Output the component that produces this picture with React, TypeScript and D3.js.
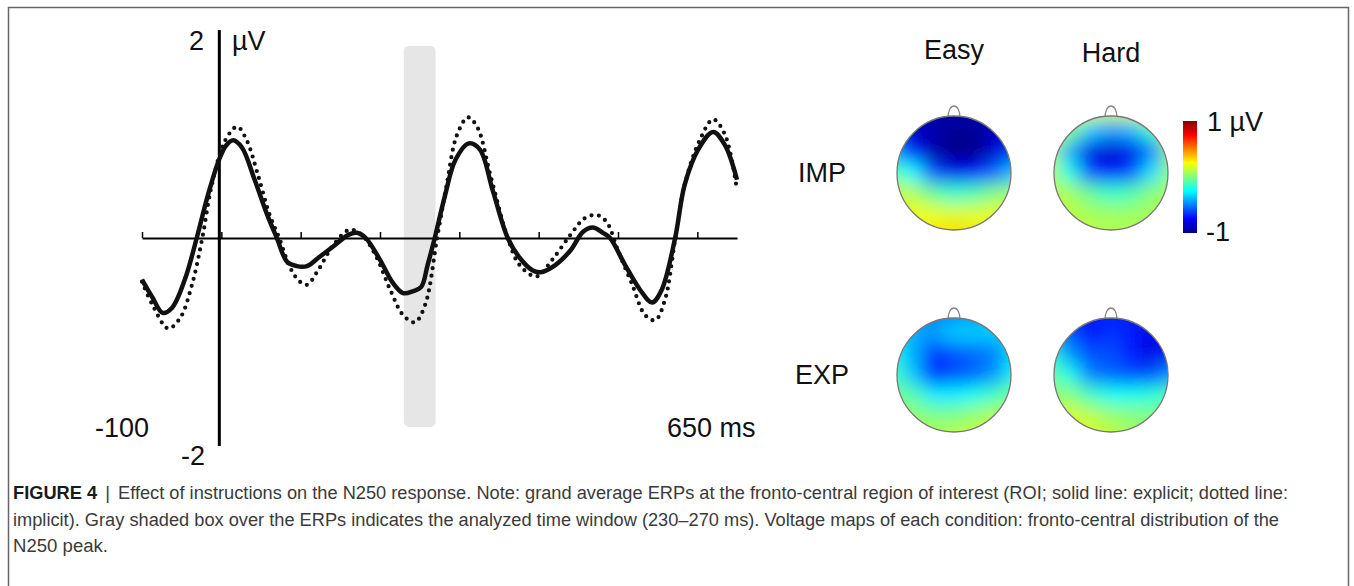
import React, { useEffect, useRef } from "react";
import * as d3 from "d3";

// ERP at the fronto-central ROI (ms, µV)
const solidTimes = [-100, -87, -74, -62, -46, -31, -17, -3, 6, 15, 26, 42, 58, 70, 83, 95, 108, 124, 143, 160, 171, 182, 200, 216, 229, 242, 252, 260, 269, 282, 295, 312, 326, 342, 361, 376, 392, 402, 421, 440, 456, 468, 481, 490, 509, 528, 543, 555, 572, 584, 601, 620, 635, 650];
const solidValues = [-0.4, -0.57, -0.72, -0.67, -0.4, 0, 0.41, 0.75, 0.89, 0.94, 0.87, 0.56, 0.22, 0, -0.23, -0.27, -0.27, -0.18, -0.07, 0.03, 0.05, 0, -0.21, -0.43, -0.53, -0.51, -0.47, -0.26, 0, 0.41, 0.75, 0.91, 0.85, 0.46, 0, -0.19, -0.31, -0.33, -0.26, -0.12, 0.06, 0.1, 0.05, 0, -0.26, -0.5, -0.62, -0.5, 0, 0.51, 0.85, 1.02, 0.89, 0.56];

const dottedTimes = [-100, -87, -67, -52, -37, -24, -12, 5, 20, 32, 46, 61, 73, 87, 99, 108, 122, 141, 162, 177, 194, 213, 229, 244, 257, 272, 284, 297, 311, 323, 339, 361, 376, 397, 417, 440, 458, 474, 486, 500, 518, 534, 547, 559, 572, 584, 603, 620, 635, 650];
const dottedValues = [-0.42, -0.64, -0.87, -0.77, -0.45, 0, 0.51, 0.94, 1.07, 0.94, 0.61, 0.22, 0, -0.29, -0.42, -0.45, -0.31, -0.07, 0.08, 0.03, -0.16, -0.5, -0.74, -0.81, -0.64, 0, 0.51, 0.99, 1.16, 1.06, 0.61, 0, -0.26, -0.37, -0.21, 0.03, 0.19, 0.22, 0.15, -0.12, -0.45, -0.74, -0.79, -0.6, -0.02, 0.51, 0.94, 1.14, 0.99, 0.46];

const xTicks = [-100, 0, 100, 200, 300, 400, 500, 600];
const analysisWindow = [230, 270];

const columns = ["Easy", "Hard"];
const rows = ["IMP", "EXP"];

// coarse voltage grids (µV), rows front -> back, cols left -> right
const easyImp = [
  [-0.85, -0.9, -0.92, -0.92, -0.92, -0.88, -0.82],
  [-0.75, -0.88, -0.92, -0.97, -0.97, -0.88, -0.75],
  [-0.4, -0.7, -0.92, -1.0, -1.0, -0.85, -0.62],
  [-0.05, -0.25, -0.6, -0.78, -0.72, -0.55, -0.35],
  [0.15, 0.1, -0.05, -0.15, -0.1, 0.0, 0.06],
  [0.2, 0.22, 0.2, 0.18, 0.18, 0.2, 0.2],
  [0.22, 0.25, 0.3, 0.33, 0.3, 0.25, 0.22],
];
const hardImp = [
  [0.2, 0.2, 0.18, 0.16, 0.17, 0.18, 0.2],
  [0.15, 0.0, -0.35, -0.45, -0.4, -0.15, 0.12],
  [0.1, -0.4, -0.82, -0.85, -0.8, -0.5, 0.05],
  [0.1, -0.2, -0.6, -0.7, -0.6, -0.3, 0.05],
  [0.12, 0.08, -0.05, -0.15, -0.1, 0.02, 0.08],
  [0.14, 0.12, 0.08, 0.06, 0.06, 0.08, 0.1],
  [0.14, 0.14, 0.12, 0.1, 0.1, 0.1, 0.1],
];
const easyExp = [
  [-0.4, -0.45, -0.5, -0.5, -0.45, -0.4, -0.35],
  [-0.3, -0.4, -0.45, -0.35, -0.35, -0.35, -0.3],
  [-0.2, -0.4, -0.65, -0.6, -0.55, -0.5, -0.3],
  [-0.1, -0.35, -0.7, -0.6, -0.55, -0.45, -0.2],
  [-0.02, -0.08, -0.28, -0.28, -0.22, -0.12, -0.02],
  [0.05, 0.05, 0.0, 0.0, 0.05, 0.1, 0.12],
  [0.1, 0.1, 0.1, 0.12, 0.15, 0.18, 0.18],
];
const hardExp = [
  [-0.6, -0.65, -0.7, -0.7, -0.7, -0.65, -0.6],
  [-0.4, -0.6, -0.72, -0.65, -0.7, -0.8, -0.7],
  [-0.15, -0.45, -0.6, -0.6, -0.7, -0.82, -0.7],
  [-0.05, -0.2, -0.5, -0.55, -0.6, -0.6, -0.45],
  [0.05, 0.02, -0.12, -0.22, -0.22, -0.18, -0.08],
  [0.12, 0.18, 0.12, 0.06, 0.02, 0.0, 0.0],
  [0.12, 0.18, 0.18, 0.12, 0.08, 0.03, 0.03],
];
const maps = [
  [easyImp, hardImp],
  [easyExp, hardExp],
];

const captionLines = [
  "Effect of instructions on the N250 response. Note: grand average ERPs at the fronto-central region of interest (ROI; solid line: explicit; dotted line:",
  "implicit). Gray shaded box over the ERPs indicates the analyzed time window (230–270 ms). Voltage maps of each condition: fronto-central distribution of the",
  "N250 peak.",
];

const FONT = "'Liberation Sans', Arial, Helvetica, sans-serif";

const App = () => {
  const svgRef = useRef<SVGSVGElement>(null);

  useEffect(() => {
    const width = 1354;
    const height = 586;
    const svg = d3.select(svgRef.current);
    svg.selectAll("*").remove();
    svg.attr("width", width).attr("height", height);

    // figure frame
    svg
      .append("rect")
      .attr("x", 8.5)
      .attr("y", 7.5)
      .attr("width", 1340)
      .attr("height", 600)
      .attr("fill", "none")
      .attr("stroke", "#666")
      .attr("stroke-width", 1.5);

    // ---- ERP panel ----
    const x = d3.scaleLinear().domain([-100, 650]).range([142, 737]);
    const y = d3.scaleLinear().domain([-2, 2]).range([446, 30]);
    const g = svg.append("g");

    g.append("rect")
      .attr("x", x(analysisWindow[0]))
      .attr("y", 46)
      .attr("width", x(analysisWindow[1]) - x(analysisWindow[0]))
      .attr("height", 381)
      .attr("rx", 5)
      .attr("fill", "#e6e6e6");

    const xAxis = g
      .append("g")
      .attr("transform", `translate(0,${y(0)})`)
      .call(d3.axisTop(x).tickValues(xTicks).tickSize(6).tickSizeOuter(0).tickFormat(() => ""));
    xAxis.select(".domain").attr("stroke", "#000").attr("stroke-width", 2);
    xAxis.selectAll(".tick line").attr("stroke", "#000").attr("stroke-width", 1.5);

    g.append("line")
      .attr("x1", x(0) - 2)
      .attr("x2", x(0) - 2)
      .attr("y1", y(2))
      .attr("y2", y(-2))
      .attr("stroke", "#000")
      .attr("stroke-width", 3);

    const line = d3
      .line<[number, number]>()
      .curve(d3.curveCatmullRom)
      .x((d) => x(d[0]))
      .y((d) => y(d[1]));

    g.append("path")
      .attr("d", line(dottedTimes.map((t, i) => [t, dottedValues[i]])))
      .attr("fill", "none")
      .attr("stroke", "#111")
      .attr("stroke-width", 4.2)
      .attr("stroke-linecap", "round")
      .attr("stroke-dasharray", "0 7.5");

    g.append("path")
      .attr("d", line(solidTimes.map((t, i) => [t, solidValues[i]])))
      .attr("fill", "none")
      .attr("stroke", "#111")
      .attr("stroke-width", 4.5)
      .attr("stroke-linejoin", "round");

    const label = (tx: number, ty: number, s: string, anchor = "start") =>
      svg
        .append("text")
        .attr("x", tx)
        .attr("y", ty)
        .attr("text-anchor", anchor)
        .attr("font-family", FONT)
        .attr("font-size", 27)
        .attr("fill", "#111")
        .text(s);

    label(204, 50, "2", "end");
    label(232, 50, "µV");
    label(205, 465, "-2", "end");
    label(95, 437, "-100");
    label(667, 437, "650 ms");

    // ---- voltage maps ----
    const jet = d3
      .scaleLinear<string>()
      .domain([-1, -0.75, -0.25, 0.25, 0.75, 1])
      .range(["#000088", "#0000ff", "#00ffff", "#ffff00", "#ff0000", "#800000"])
      .clamp(true);

    const defs = svg.append("defs");
    defs
      .append("filter")
      .attr("id", "smooth")
      .attr("x", "-20%")
      .attr("y", "-20%")
      .attr("width", "140%")
      .attr("height", "140%")
      .append("feGaussianBlur")
      .attr("stdDeviation", 9);

    const centersX = [954, 1111];
    const centersY = [173, 375];
    const r = 57;
    const pad = 16;

    rows.forEach((rowName, ri) => {
      label(822, centersY[ri] + 9, rowName, "middle");
      columns.forEach((colName, ci) => {
        const cx = centersX[ci];
        const cy = centersY[ri];
        const grid = maps[ri][ci];
        const n = grid.length;
        const cell = (2 * (r + pad)) / n;
        const clipId = `clip-${ri}-${ci}`;
        defs.append("clipPath").attr("id", clipId).append("circle").attr("cx", cx).attr("cy", cy).attr("r", r);

        // nose
        svg
          .append("path")
          .attr("d", `M${cx - 6},${cy - r + 2} C${cx - 6},${cy - r - 14} ${cx + 6},${cy - r - 14} ${cx + 6},${cy - r + 2}`)
          .attr("fill", "none")
          .attr("stroke", "#888")
          .attr("stroke-width", 1.3);

        const field = svg.append("g").attr("clip-path", `url(#${clipId})`).append("g").attr("filter", "url(#smooth)");
        grid.forEach((rowVals, gy) =>
          rowVals.forEach((v, gx) => {
            field
              .append("rect")
              .attr("x", cx - r - pad + gx * cell - 0.5)
              .attr("y", cy - r - pad + gy * cell - 0.5)
              .attr("width", cell + 1)
              .attr("height", cell + 1)
              .attr("fill", jet(v));
          })
        );

        svg
          .append("circle")
          .attr("cx", cx)
          .attr("cy", cy)
          .attr("r", r)
          .attr("fill", "none")
          .attr("stroke", "#777")
          .attr("stroke-width", 1.3);

        if (ri === 0) label(cx, 59 + ci * 3, colName, "middle");
      });
    });

    // colour bar
    const grad = defs
      .append("linearGradient")
      .attr("id", "jetbar")
      .attr("x1", 0)
      .attr("y1", 1)
      .attr("x2", 0)
      .attr("y2", 0);
    jet.domain().forEach((v) => {
      grad
        .append("stop")
        .attr("offset", (v + 1) / 2)
        .attr("stop-color", jet(v));
    });
    svg
      .append("rect")
      .attr("x", 1183)
      .attr("y", 121)
      .attr("width", 14)
      .attr("height", 112)
      .attr("fill", "url(#jetbar)");
    label(1207, 131, "1 µV");
    label(1206, 241, "-1");

    // ---- caption ----
    const captionWidths = [1275, 1266, 95];
    captionLines.forEach((s, i) => {
      const t = svg
        .append("text")
        .attr("x", 13)
        .attr("y", 499 + i * 26.5)
        .attr("font-family", "'Liberation Sans Narrow', 'Liberation Sans', Arial, sans-serif")
        .attr("font-size", 18)
        .attr("fill", "#3a3a3a")
        .attr("textLength", captionWidths[i])
        .attr("lengthAdjust", "spacingAndGlyphs");
      if (i === 0) {
        t.append("tspan").attr("font-weight", "bold").attr("fill", "#1a1a1a").text("FIGURE 4");
        t.append("tspan").attr("dx", 8).text("|");
        t.append("tspan").attr("dx", 8).text(s);
      } else {
        t.append("tspan").text(s);
      }
    });
  }, []);

  return <svg ref={svgRef} style={{ position: "absolute", left: 0, top: 0, background: "#fff" }} />;
};

export default App;
